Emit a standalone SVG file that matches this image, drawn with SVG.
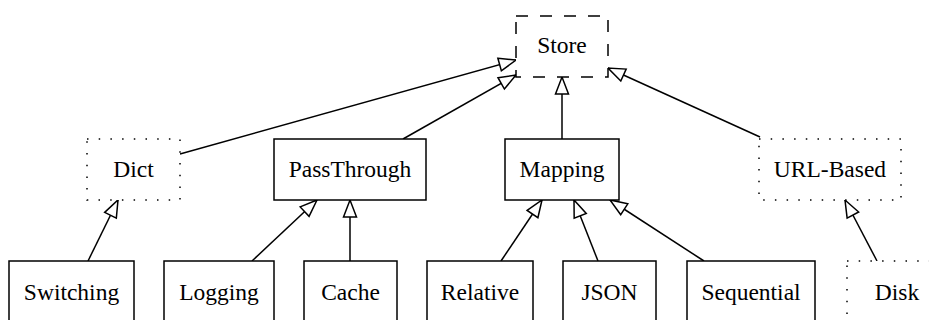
<svg xmlns="http://www.w3.org/2000/svg" width="929" height="320" viewBox="0 0 929 320">
<defs>
<style>
.box{fill:#fff;stroke:#000;stroke-width:1.5}
.dash{fill:#fff;stroke:#000;stroke-width:1.5;stroke-dasharray:12 12}
.dot{fill:#fff;stroke:#000;stroke-width:1.5;stroke-dasharray:1.5 10.2}
.lbl{font-size:23.5px;text-anchor:middle;fill:#000}
.edge{stroke:#000;stroke-width:1.5;fill:none;marker-end:url(#tri)}
</style>
<marker id="tri" markerUnits="userSpaceOnUse" viewBox="-2 -2 22 18" refX="17" refY="6.5" markerWidth="22" markerHeight="18" orient="auto" overflow="visible">
<path d="M0,0 L17,6.5 L0,13 Z" fill="#fff" stroke="#000" stroke-width="1.5" stroke-linejoin="miter"/>
</marker>
</defs>
<rect width="929" height="320" fill="#fff"/>
<g id="connectors">
<line class="edge" x1="180" y1="154" x2="516" y2="60"/>
<line class="edge" x1="403" y1="139" x2="516" y2="75"/>
<line class="edge" x1="562" y1="139" x2="562" y2="77"/>
<line class="edge" x1="760" y1="137" x2="608" y2="68"/>
<line class="edge" x1="88" y1="261" x2="118" y2="200"/>
<line class="edge" x1="252" y1="261" x2="317" y2="200"/>
<line class="edge" x1="350" y1="261" x2="350" y2="200"/>
<line class="edge" x1="501" y1="261" x2="542" y2="200"/>
<line class="edge" x1="598" y1="261" x2="574" y2="200"/>
<line class="edge" x1="704" y1="261" x2="610" y2="200"/>
<line class="edge" x1="877" y1="261" x2="845" y2="200"/>
</g>
<g font-family="'Liberation Serif', 'Times New Roman', 'DejaVu Serif', serif">
<g id="store"><rect class="dash" x="516" y="16" width="92" height="61"/><text class="lbl" x="562" y="53">Store</text></g>
<g id="dict"><rect class="dot" x="87" y="139" width="93" height="61"/><text class="lbl" x="133.5" y="177">Dict</text></g>
<g id="passthrough"><rect class="box" x="274" y="139" width="152" height="61"/><text class="lbl" x="350" y="177">PassThrough</text></g>
<g id="mapping"><rect class="box" x="505" y="139" width="114" height="61"/><text class="lbl" x="562" y="177">Mapping</text></g>
<g id="urlbased"><rect class="dot" x="759" y="139" width="142" height="61"/><text class="lbl" x="830" y="177">URL-Based</text></g>
<g id="switching"><rect class="box" x="9" y="261" width="125" height="61"/><text class="lbl" x="71.5" y="300">Switching</text></g>
<g id="logging"><rect class="box" x="164" y="261" width="110" height="61"/><text class="lbl" x="219" y="300">Logging</text></g>
<g id="cache"><rect class="box" x="304" y="261" width="93" height="61"/><text class="lbl" x="350.5" y="300">Cache</text></g>
<g id="relative"><rect class="box" x="427" y="261" width="106" height="61"/><text class="lbl" x="480" y="300">Relative</text></g>
<g id="json"><rect class="box" x="563" y="261" width="93" height="61"/><text class="lbl" x="609.5" y="300">JSON</text></g>
<g id="sequential"><rect class="box" x="687" y="261" width="128" height="61"/><text class="lbl" x="751" y="300">Sequential</text></g>
<g id="disk"><rect class="dot" x="847" y="261" width="100" height="61"/><text class="lbl" x="897" y="300">Disk</text></g>
</g>
</svg>
